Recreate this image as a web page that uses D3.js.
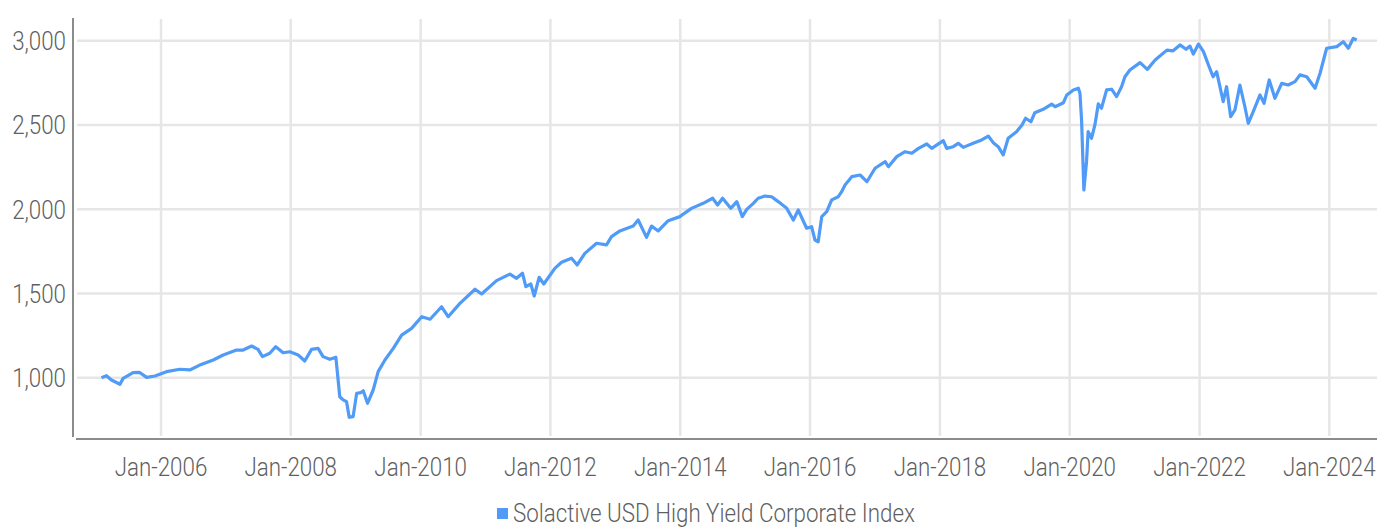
<!DOCTYPE html>
<html>
<head>
<meta charset="utf-8">
<script src="https://cdn.jsdelivr.net/npm/d3@7/dist/d3.min.js"></script>
<style>
  html, body { margin: 0; padding: 0; background: #fff; }
  svg { display: block; }
  text { font-family: Roboto, "Noto Sans", sans-serif; font-weight: 300; fill: #5f5f5f; }
</style>
</head>
<body>
<svg id="chart" width="1377" height="527"></svg>
<script>
const seriesName = "Solactive USD High Yield Corporate Index";
const yTicks = [1000, 1500, 2000, 2500, 3000];
const xTickYears = [2006, 2008, 2010, 2012, 2014, 2016, 2018, 2020, 2022, 2024];

const dates = [
"2005-01-31","2005-02-28","2005-03-28","2005-05-15","2005-06-02","2005-07-28","2005-09-01","2005-10-12","2005-11-28",
"2006-02-01","2006-04-17","2006-06-12","2006-08-07","2006-10-22","2006-12-17",
"2007-03-02","2007-04-08","2007-05-26","2007-07-01","2007-07-26","2007-09-05","2007-10-09","2007-11-19","2007-12-27",
"2008-02-12","2008-03-20","2008-04-27","2008-06-03","2008-07-01","2008-08-08","2008-09-11","2008-10-03","2008-10-22","2008-11-10","2008-11-25","2008-12-17",
"2009-01-06","2009-01-28","2009-02-12","2009-03-08","2009-04-09","2009-05-07","2009-06-14","2009-07-31","2009-09-16","2009-11-11",
"2010-01-07","2010-02-23","2010-04-29","2010-06-05","2010-08-10","2010-11-03","2010-12-10",
"2011-03-04","2011-05-18","2011-06-25","2011-07-28","2011-08-16","2011-09-13","2011-10-02","2011-10-30","2011-11-25",
"2012-01-26","2012-03-04","2012-04-29","2012-05-31","2012-07-13","2012-09-17","2012-11-12","2012-12-10",
"2013-01-26","2013-04-11","2013-05-09","2013-06-25","2013-07-23","2013-08-30","2013-10-25","2013-12-30",
"2014-01-18","2014-03-05","2014-05-10","2014-07-02","2014-07-30","2014-08-27","2014-10-12","2014-11-15","2014-12-16",
"2015-01-10","2015-02-16","2015-03-15","2015-04-22","2015-05-30","2015-07-06","2015-08-23","2015-09-29","2015-10-27","2015-12-13",
"2016-01-10","2016-01-29","2016-02-16","2016-03-07","2016-04-04","2016-05-02","2016-06-08","2016-06-27","2016-07-16","2016-08-23","2016-10-09","2016-11-16",
"2017-01-01","2017-02-27","2017-03-17","2017-05-03","2017-06-19","2017-07-27","2017-09-02","2017-10-19","2017-11-16",
"2018-01-20","2018-02-08","2018-03-17","2018-04-14","2018-05-12","2018-07-07","2018-08-24","2018-09-30","2018-10-28","2018-11-25","2018-12-23",
"2019-01-20","2019-03-08","2019-04-08","2019-04-28","2019-05-28","2019-06-19","2019-08-05","2019-09-22","2019-10-11","2019-11-27","2019-12-16",
"2020-01-22","2020-02-19","2020-02-28","2020-03-08","2020-03-21","2020-04-05","2020-04-14","2020-05-03","2020-05-22","2020-06-10","2020-06-28","2020-07-27","2020-08-24","2020-09-21","2020-10-19","2020-11-07","2020-12-05",
"2021-01-31","2021-03-13","2021-04-26","2021-07-01","2021-08-05","2021-09-13","2021-10-17","2021-11-08","2021-11-27","2021-12-26",
"2022-01-23","2022-02-20","2022-03-18","2022-04-07","2022-05-14","2022-06-02","2022-06-25","2022-07-19","2022-08-16","2022-09-13","2022-10-02","2022-10-30","2022-12-07","2022-12-30",
"2023-01-28","2023-03-01","2023-04-08","2023-05-15","2023-06-22","2023-07-20","2023-08-27","2023-10-13","2023-11-10","2023-12-17",
"2024-02-12","2024-03-20","2024-04-17","2024-05-15","2024-06-03"
];
const values = [
1000,1012,986,961,996,1030,1032,1002,1010,
1036,1050,1046,1075,1105,1135,
1164,1164,1188,1168,1125,1145,1184,1148,1154,
1135,1099,1168,1174,1125,1109,1121,887,868,858,765,769,
907,911,923,848,927,1036,1105,1174,1253,1293,
1362,1347,1421,1362,1441,1525,1497,
1576,1615,1590,1620,1540,1556,1485,1596,1556,
1649,1685,1709,1669,1738,1798,1788,1837,
1871,1900,1936,1833,1900,1871,1932,1956,
1971,2005,2035,2065,2025,2065,2005,2045,1956,
1999,2035,2065,2078,2074,2045,2005,1936,1995,1887,
1896,1817,1807,1956,1985,2055,2074,2104,2144,2193,2203,2163,
2243,2282,2252,2312,2341,2332,2361,2387,2361,
2407,2361,2371,2391,2367,2391,2411,2434,2395,2371,2322,
2421,2460,2500,2540,2519,2573,2593,2624,2608,2632,2678,
2708,2718,2688,2529,2114,2282,2460,2421,2500,2625,2599,2708,2712,2668,2727,2786,2826,
2870,2830,2885,2944,2940,2975,2949,2968,2921,2980,
2935,2856,2786,2816,2638,2727,2549,2589,2737,2608,2510,2579,2678,2629,
2767,2658,2747,2737,2757,2797,2786,2718,2807,2955,
2965,2994,2955,3014,3004
];

const parse = d3.timeParse("%Y-%m-%d");
const data = dates.map((d, i) => ({ date: parse(d), value: values[i] }));

const svg = d3.select("#chart");
const plotLeft = 76, plotRight = 1377, plotTop = 18, plotBottom = 437;
const sx = 0.86;

const x = d3.scaleTime()
  .domain([new Date(2006, 0, 1), new Date(2024, 0, 1)])
  .range([161, 1329.3]);
const y = d3.scaleLinear()
  .domain([1000, 3000])
  .range([377.7, 40.7]);

// horizontal gridlines
svg.append("g").selectAll("line").data(yTicks).join("line")
  .attr("x1", plotLeft + 1).attr("x2", plotRight)
  .attr("y1", d => y(d)).attr("y2", d => y(d))
  .attr("stroke", "#e6e6e6").attr("stroke-width", 2.5);

// vertical gridlines
svg.append("g").selectAll("line").data(xTickYears).join("line")
  .attr("x1", d => x(new Date(d, 0, 1))).attr("x2", d => x(new Date(d, 0, 1)))
  .attr("y1", plotTop + 1).attr("y2", plotBottom - 1)
  .attr("stroke", "#e6e6e6").attr("stroke-width", 2.5);

// y labels
svg.append("g").selectAll("text").data(yTicks).join("text")
  .attr("transform", d => `translate(66,${y(d) + 9.5}) scale(${sx},1)`)
  .attr("text-anchor", "end")
  .attr("font-size", 26)
  .text(d => d3.format(",")(d));

// x labels
svg.append("g").selectAll("text").data(xTickYears).join("text")
  .attr("transform", d => `translate(${x(new Date(d, 0, 1))},476) scale(${sx},1)`)
  .attr("text-anchor", "middle")
  .attr("font-size", 26)
  .text(d => d3.timeFormat("%b-%Y")(new Date(d, 0, 1)));

// axes lines
svg.append("line").attr("x1", 73).attr("x2", 73).attr("y1", plotTop).attr("y2", plotBottom)
  .attr("stroke", "#8c8c8c").attr("stroke-width", 2);
svg.append("line").attr("x1", 76).attr("x2", plotRight).attr("y1", 439).attr("y2", 439)
  .attr("stroke", "#8c8c8c").attr("stroke-width", 2);

// series line
const line = d3.line().x(d => x(d.date)).y(d => y(d.value));
svg.append("path").datum(data)
  .attr("d", line)
  .attr("fill", "none")
  .attr("stroke", "#4f9bf7")
  .attr("stroke-width", 3.2)
  .attr("stroke-linejoin", "round");

// legend
const lg = svg.append("g");
lg.append("rect").attr("x", 497).attr("y", 508).attr("width", 11).attr("height", 11).attr("fill", "#4f9bf7");
lg.append("text").attr("transform", `translate(513,522) scale(${sx},1)`).attr("font-size", 26).text(seriesName);
</script>
</body>
</html>
